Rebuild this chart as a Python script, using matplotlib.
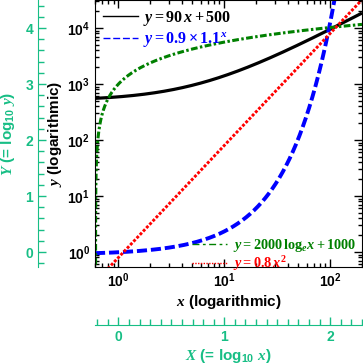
import numpy as np
import matplotlib
matplotlib.use('Agg')
import matplotlib.pyplot as plt
from matplotlib.lines import Line2D
from matplotlib.ticker import LogLocator, FuncFormatter, MultipleLocator, NullFormatter

plt.rcParams['font.family'] = 'Liberation Sans'
plt.rcParams['font.weight'] = 'bold'
plt.rcParams['mathtext.fontset'] = 'custom'
plt.rcParams['mathtext.rm'] = 'Liberation Serif:bold'
plt.rcParams['mathtext.it'] = 'Liberation Serif:italic:bold'
plt.rcParams['mathtext.bf'] = 'Liberation Serif:bold'
plt.rcParams['mathtext.sf'] = 'Liberation Sans:bold'

# coefficients of the plotted functions (as written in the legend)
linear_coef = [90, 500]          # y = 90 x + 500
expo_coef = [0.9, 1.1]           # y = 0.9 * 1.1^x
log_coef = [2000, 1000]          # y = 2000 ln x + 1000
power_coef = [0.8, 2]            # y = 0.8 x^2

labels = [r'$y = 90\,x + 500$',
          r'$y = 0.9 \times 1.1^{x}$',
          r'$y = 2000\,\mathrm{log}_{e}x + 1000$',
          r'$y = 0.8\,x^{2}$']
colors = ['black', 'blue', 'green', 'red']
axis_color = '#17be85'

x_lim = (0.6, 200)
y_lim = (0.54, 10 ** 4.5)

fig = plt.figure(figsize=(3.63, 3.64), dpi=100)
W, H = 363.0, 364.0
left, right, top, bottom = 95, 362, 0, 267
ax = fig.add_axes([left / W, 1 - bottom / H, (right - left) / W, (bottom - top) / H])

x = np.geomspace(x_lim[0], x_lim[1], 3000)
x = np.sort(np.concatenate([x, np.exp(-0.5) + np.geomspace(1e-5, 0.05, 400)]))

y_lin = linear_coef[0] * x + linear_coef[1]
y_exp = expo_coef[0] * expo_coef[1] ** x
y_log = log_coef[0] * np.log(x) + log_coef[1]
y_log[y_log <= 0] = np.nan
y_pow = power_coef[0] * x ** power_coef[1]

ax.plot(x, y_lin, color='black', lw=2.3, solid_capstyle='butt')
ax.plot(x, y_exp, color='blue', lw=2.8, dashes=(2.6, 1.0))
ax.plot(x, y_log, color='green', lw=2.2, dashes=(2.2, 0.8, 0.8, 0.8))
ax.plot(x, y_pow, color='red', lw=2.1, dashes=(1.0, 0.6))

ax.set_xscale('log')
ax.set_yscale('log')
ax.set_xlim(x_lim)
ax.set_ylim(y_lim)

fmt = FuncFormatter(lambda v, p: r'$\mathsf{10^{%d}}$' % round(np.log10(v)))
ax.xaxis.set_major_locator(LogLocator(base=10))
ax.yaxis.set_major_locator(LogLocator(base=10))
ax.xaxis.set_major_formatter(fmt)
ax.yaxis.set_major_formatter(fmt)
ax.xaxis.set_minor_formatter(NullFormatter())
ax.yaxis.set_minor_formatter(NullFormatter())
ax.tick_params(which='both', direction='in', top=True, right=True, labelsize=10, width=1)
ax.tick_params(which='major', length=6)
ax.tick_params(which='minor', length=3)
ax.set_xlabel(r'$x$ (logarithmic)', fontsize=11, fontweight='bold', labelpad=2)
ax.set_ylabel(r'$y$ (logarithmic)', fontsize=11, fontweight='bold', labelpad=2)

h1 = [Line2D([], [], color='black', lw=1),
      Line2D([], [], color='blue', lw=1, dashes=(5, 2))]
leg1 = ax.legend(h1, labels[:2], loc='upper left', bbox_to_anchor=(-0.012, 1.01), frameon=False,
                 fontsize=11.5, handlelength=2.2, handletextpad=0.3, labelspacing=0.2,
                 borderaxespad=0.3)
for t, c in zip(leg1.get_texts(), colors[:2]):
    t.set_color(c)
ax.add_artist(leg1)

h2 = [Line2D([], [], color='green', lw=1, dashes=(5, 2.5, 2, 2.5)),
      Line2D([], [], color='red', lw=1, dashes=(1, 1))]
leg2 = ax.legend(h2, labels[2:], loc='lower left', bbox_to_anchor=(0.327, -0.061), frameon=False,
                 fontsize=10.3, handlelength=2.45, handletextpad=0.4, labelspacing=0.0,
                 borderaxespad=0.3)
for t, c in zip(leg2.get_texts(), colors[2:]):
    t.set_color(c)

# linear log10 axes
axY = fig.add_axes([38 / W, 1 - bottom / H, 0.001, (bottom - top) / H], facecolor='none')
axY.set_ylim(np.log10(y_lim[0]), np.log10(y_lim[1]))
for s in ['top', 'right', 'bottom']:
    axY.spines[s].set_visible(False)
axY.spines['left'].set_color(axis_color)
axY.set_xticks([])
axY.yaxis.set_major_locator(MultipleLocator(1))
axY.yaxis.set_minor_locator(MultipleLocator(0.2))
axY.tick_params(axis='y', which='both', direction='in', colors=axis_color, labelsize=10, width=1)
axY.tick_params(axis='y', which='major', length=6)
axY.tick_params(axis='y', which='minor', length=4)
axY.set_ylabel(r'$Y$ (= log$_{\mathsf{10}}$ $y$)', fontsize=11, fontweight='bold', color=axis_color, labelpad=6)

axX = fig.add_axes([left / W, 1 - 325 / H, (right - left) / W, 0.001], facecolor='none')
axX.set_xlim(np.log10(x_lim[0]), np.log10(x_lim[1]))
for s in ['top', 'right', 'left']:
    axX.spines[s].set_visible(False)
axX.spines['bottom'].set_color(axis_color)
axX.set_yticks([])
axX.xaxis.set_major_locator(MultipleLocator(1))
axX.xaxis.set_minor_locator(MultipleLocator(0.1))
axX.tick_params(axis='x', which='both', direction='in', colors=axis_color, labelsize=10, width=1)
axX.tick_params(axis='x', which='major', length=6)
axX.tick_params(axis='x', which='minor', length=4)
axX.set_xlabel(r'$X$ (= log$_{\mathsf{10}}$ $x$)', fontsize=11, fontweight='bold', color=axis_color, labelpad=2)

fig.savefig('out.png', dpi=100)
